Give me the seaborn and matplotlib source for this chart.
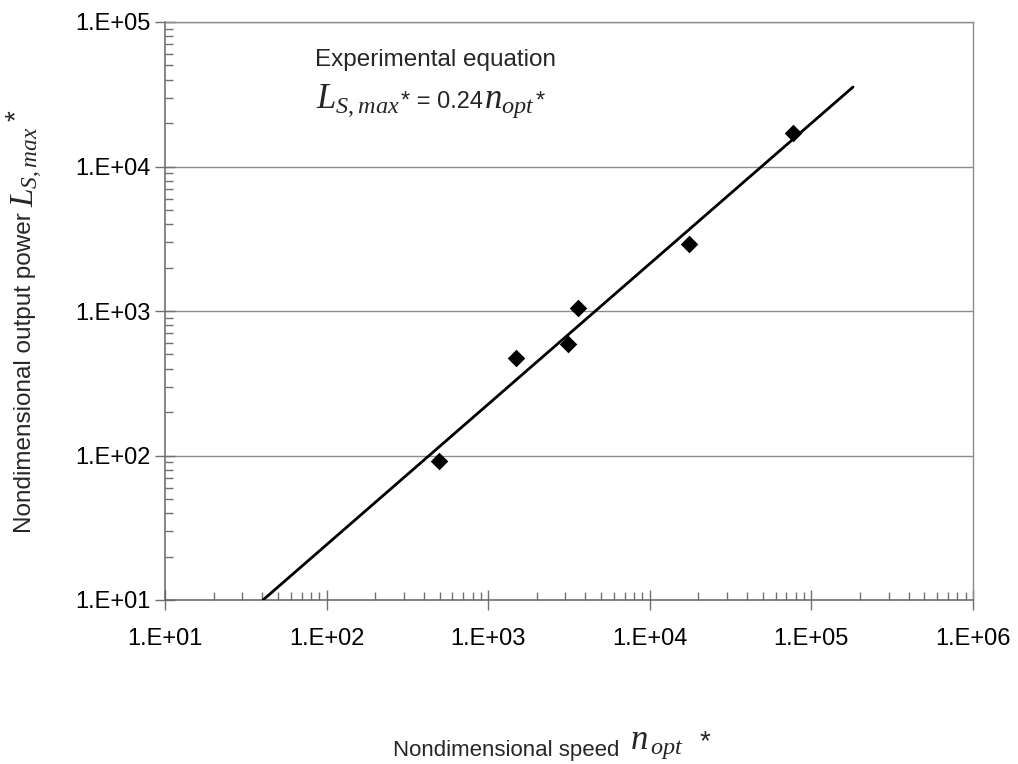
import numpy as np
import pandas as pd
import matplotlib
matplotlib.use("Agg")
import matplotlib.pyplot as plt
import seaborn as sns
from matplotlib.ticker import FixedLocator, FixedFormatter, LogLocator, NullFormatter

# ---- data ----
n_points = [497, 1486, 3120, 3597, 17500, 76900]
L_points = [91.6, 473, 591, 1049, 2912, 17070]
n_line = [40.4, 181000]
L_line = [10, 35500]
x_ticks = [1e1, 1e2, 1e3, 1e4, 1e5, 1e6]
x_tick_labels = ["1.E+01", "1.E+02", "1.E+03", "1.E+04", "1.E+05", "1.E+06"]
y_ticks = [1e1, 1e2, 1e3, 1e4, 1e5]
y_tick_labels = ["1.E+01", "1.E+02", "1.E+03", "1.E+04", "1.E+05"]

sns.set_style("white")
plt.rcParams['font.family'] = ['Liberation Sans', 'DejaVu Sans']
plt.rcParams['mathtext.fontset'] = 'custom'
plt.rcParams['mathtext.it'] = 'Liberation Serif:italic'
plt.rcParams['mathtext.rm'] = 'Liberation Serif'

W, H = 1018, 764
fig = plt.figure(figsize=(W / 100, H / 100), dpi=100)
ax = fig.add_axes([165 / W, 1 - 600 / H, 808 / W, 578 / H])
ax.set_xscale('log')
ax.set_yscale('log')

df_line = pd.DataFrame({"n": n_line, "L": L_line})
df_pts = pd.DataFrame({"n": n_points, "L": L_points})
sns.lineplot(data=df_line, x="n", y="L", ax=ax, color='black', linewidth=2, sort=False, zorder=3)
sns.scatterplot(data=df_pts, x="n", y="L", ax=ax, marker='D', s=80, color='black',
                edgecolor='black', linewidth=0, zorder=4)

ax.set_xlim(1e1, 1e6)
ax.set_ylim(1e1, 1e5)

ax.xaxis.set_major_locator(FixedLocator(x_ticks))
ax.xaxis.set_major_formatter(FixedFormatter(x_tick_labels))
ax.yaxis.set_major_locator(FixedLocator(y_ticks))
ax.yaxis.set_major_formatter(FixedFormatter(y_tick_labels))
for a in (ax.xaxis, ax.yaxis):
    a.set_minor_locator(LogLocator(base=10, subs=range(2, 10), numticks=20))
    a.set_minor_formatter(NullFormatter())

tc = '#707070'
ax.tick_params(axis='both', which='both', bottom=True, left=True, top=False, right=False)
ax.tick_params(axis='x', which='major', direction='inout', length=14, width=1, color=tc,
               pad=13, labelsize=17, labelcolor='black')
ax.tick_params(axis='x', which='minor', direction='in', length=6, width=1, color=tc)
ax.tick_params(axis='y', which='major', direction='inout', length=14, width=1, color=tc,
               pad=3, labelsize=17, labelcolor='black')
ax.tick_params(axis='y', which='minor', direction='in', length=6, width=1, color=tc)

ax.yaxis.grid(True, which='major', color='#8c8c8c', linewidth=1)
ax.xaxis.grid(False)
ax.set_axisbelow(True)

for side in ['left', 'bottom']:
    ax.spines[side].set_color('#666666')
    ax.spines[side].set_linewidth(1.1)
for side in ['top', 'right']:
    ax.spines[side].set_color('#8c8c8c')
    ax.spines[side].set_linewidth(1)

# axis labels
ax.set_xlabel("Nondimensional speed", fontsize=16)
ax.xaxis.label.set_ha('left')
ax.xaxis.set_label_coords((393 - 165) / 808, (600 - 740) / 578)
ax.annotate(r"$n_{\,opt}$", xy=(1, 0), xycoords=ax.xaxis.label, xytext=(8, 0),
            textcoords='offset points', ha='left', va='bottom', fontsize=25)
ax.annotate("*", xy=(1, 0), xycoords=ax.xaxis.label, xytext=(58, 4),
            textcoords='offset points', ha='left', va='bottom', fontsize=20)

ax.set_ylabel("Nondimensional output power", fontsize=17.5)
ax.yaxis.label.set_ha('left')
ax.yaxis.label.set_va('center')
ax.yaxis.set_label_coords((25 - 165) / 808, (600 - 533) / 578)
ax.annotate(r"$L_{S,max}$", xy=(0.5, 1), xycoords=ax.yaxis.label, xytext=(2, 4),
            textcoords='offset points', ha='center', va='bottom', fontsize=24, rotation=90)
ax.annotate("*", xy=(0.5, 1), xycoords=ax.yaxis.label, xytext=(-6, 66),
            textcoords='offset points', ha='center', va='bottom', fontsize=20, rotation=90)

# in-plot annotations
ax.text((315 - 165) / 808, (600 - 60) / 578, "Experimental equation", transform=ax.transAxes,
        ha='left', va='center', fontsize=17.5)

eq_parts = [(r"$L_{S,max}$", 25), ("* = 0.24", 17), (r"$n_{opt}$", 25), ("*", 17)]
x_px = 316
base_y = (600 - 108) / 578
fig.canvas.draw()
renderer = fig.canvas.get_renderer()
for txt, fs in eq_parts:
    t = ax.text((x_px - 165) / 808, base_y, txt, transform=ax.transAxes,
                ha='left', va='baseline', fontsize=fs)
    bb = t.get_window_extent(renderer=renderer)
    x_px = x_px + bb.width + 1

fig.savefig("out.png", dpi=100)
